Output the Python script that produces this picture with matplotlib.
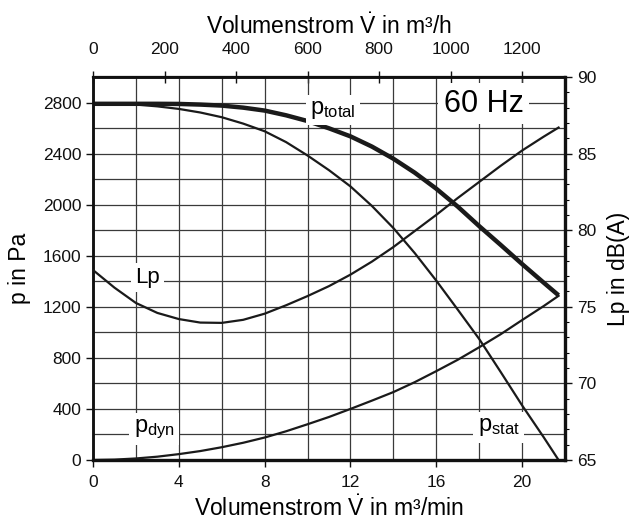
import matplotlib
matplotlib.use("Agg")
import matplotlib.pyplot as plt
from matplotlib.ticker import MultipleLocator

plt.rcParams['font.family'] = ['Liberation Sans', 'DejaVu Sans']
plt.rcParams['mathtext.fontset'] = 'custom'
plt.rcParams['mathtext.rm'] = 'Liberation Sans'
plt.rcParams['mathtext.it'] = 'Liberation Sans'

# flow in m3/min
flow = [0, 1, 2, 3, 4, 5, 6, 7, 8, 9, 10, 11, 12, 13, 14, 15, 16, 17, 18, 19, 20, 21, 21.7]
p_total = [2790, 2790, 2790, 2790, 2789, 2784, 2776, 2760, 2737, 2700, 2655, 2598, 2535,
           2455, 2360, 2250, 2125, 1985, 1832, 1685, 1535, 1390, 1290]
p_stat = [2790, 2789, 2784, 2770, 2750, 2722, 2685, 2635, 2575, 2490, 2385, 2270, 2143,
          1990, 1817, 1620, 1405, 1178, 948, 690, 428, 180, 0]
p_dyn = [0, 3, 12, 26, 46, 70, 100, 135, 176, 225, 280, 337, 400, 465, 532, 610, 696,
         785, 883, 985, 1096, 1205, 1286]
lp = [77.4, 76.25, 75.25, 74.6, 74.2, 73.97, 73.95, 74.15, 74.55, 75.1, 75.7, 76.35, 77.1,
      77.95, 78.9, 79.95, 81.0, 82.1, 83.15, 84.2, 85.2, 86.1, 86.7]

x_ticks = [0, 4, 8, 12, 16, 20]
top_ticks = [0, 200, 400, 600, 800, 1000, 1200]
p_ticks = [0, 400, 800, 1200, 1600, 2000, 2400, 2800]
lp_ticks = [65, 70, 75, 80, 85, 90]

fig = plt.figure(figsize=(6.43, 5.27), dpi=100)
ax = fig.add_axes([93/643, 1-460/527, (565-93)/643, (460-77)/527])

TL = 12.5
AL = 16.5
tc = '#111111'

ax.set_xlim(0, 22)
ax.set_ylim(0, 3000)
ax.set_xticks(x_ticks)
ax.set_yticks(p_ticks)
ax.xaxis.set_minor_locator(MultipleLocator(2))
ax.yaxis.set_minor_locator(MultipleLocator(200))
ax.grid(which='both', color='#3a3a3a', lw=0.9)
ax.tick_params(which='minor', length=0)
ax.tick_params(which='major', direction='out', length=5, width=1, labelsize=TL,
               colors=tc)
ax.tick_params(axis='x', pad=6)
ax.set_axisbelow(True)

lc = '#1a1a1a'
ax.plot(flow, p_total, color=lc, lw=3.2, solid_capstyle='butt', zorder=4)
ax.plot(flow, p_stat, color=lc, lw=1.6, zorder=4)
ax.plot(flow, p_dyn, color=lc, lw=1.6, zorder=4)

ax2 = ax.twinx()
ax2.set_ylim(65, 90)
ax2.set_yticks(lp_ticks)
ax2.yaxis.set_minor_locator(MultipleLocator(1))
ax2.tick_params(which='major', direction='out', length=5, width=1, labelsize=TL,
                colors=tc)
ax2.tick_params(which='minor', direction='out', length=3, width=0.8)
ax2.plot(flow, lp, color=lc, lw=1.6, zorder=4)
ax2.set_ylabel('Lp in dB(A)', fontsize=AL, labelpad=8)

top = ax.secondary_xaxis('top', functions=(lambda v: v * 60, lambda v: v / 60))
top.set_xticks(top_ticks)
top.tick_params(direction='inout', length=9, width=1, labelsize=TL, colors=tc, pad=10)
top.set_xlabel(r'Volumenstrom $\dot{\mathrm{V}}$ in m³/h', fontsize=AL, labelpad=6)

ax.set_xlabel(r'Volumenstrom $\dot{\mathrm{V}}$ in m³/min', fontsize=AL, labelpad=4)
ax.set_ylabel('p in Pa', fontsize=AL, labelpad=8)

for a in (ax, ax2):
    for s in a.spines.values():
        s.set_linewidth(1.8)
        s.set_color(tc)
ax2.spines['right'].set_linewidth(2.4)
ax.spines['bottom'].set_linewidth(2.4)
top.spines['top'].set_linewidth(1.6)

box = dict(facecolor='white', edgecolor='none', pad=3)
ax.text(11.2, 2740, r'$\mathrm{p_{total}}$', fontsize=17, ha='center', va='center',
        bbox=box, zorder=5)
ax.text(18.2, 2790, '60 Hz', fontsize=22, ha='center', va='center',
        bbox=dict(facecolor='white', edgecolor='none', pad=4), zorder=5)
ax.text(2.55, 1430, 'Lp', fontsize=16, ha='center', va='center', bbox=box, zorder=5)
ax.text(2.85, 240, r'$\mathrm{p_{dyn}}$', fontsize=17, ha='center', va='center',
        bbox=box, zorder=5)
ax.text(18.9, 255, r'$\mathrm{p_{stat}}$', fontsize=17, ha='center', va='center',
        bbox=box, zorder=5)

fig.savefig('out.png', dpi=100)
